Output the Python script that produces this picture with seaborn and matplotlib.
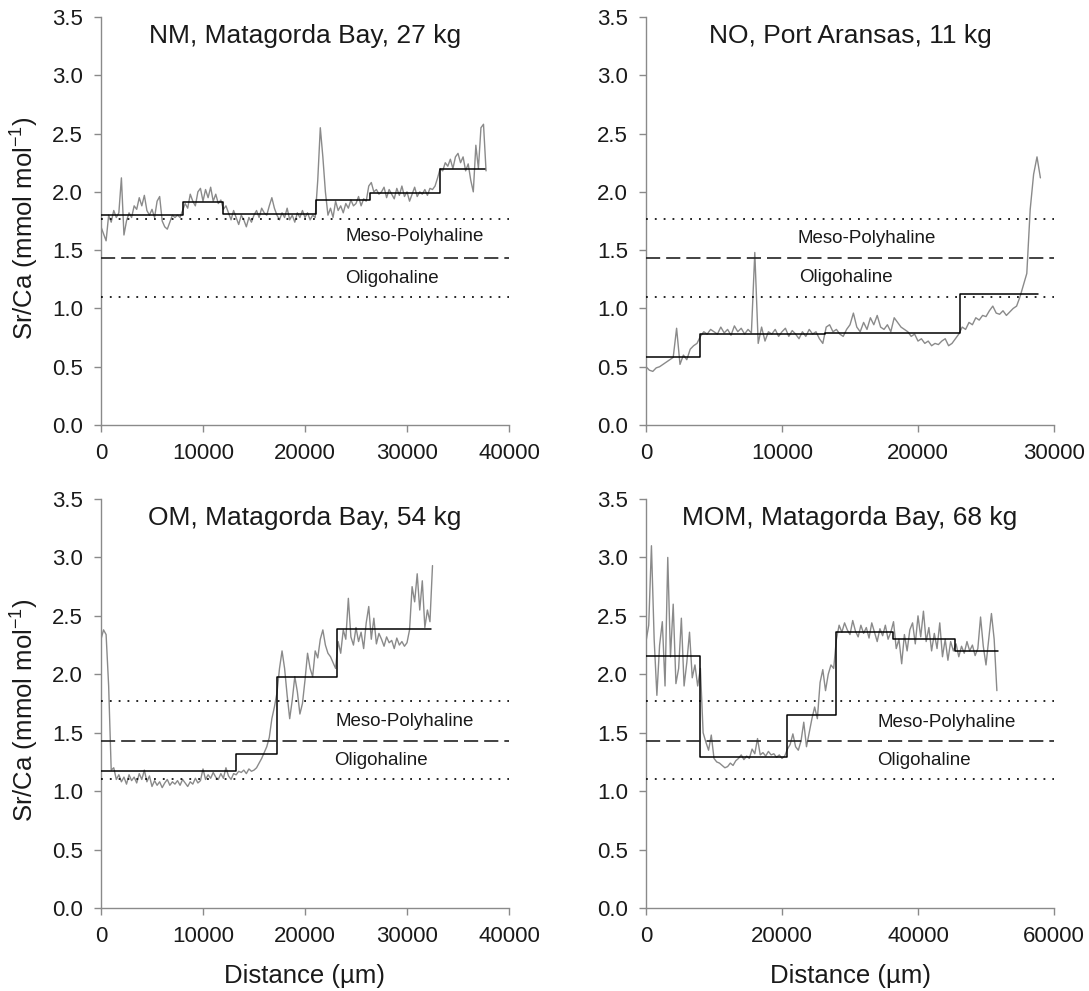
import numpy as np
import pandas as pd
import matplotlib
matplotlib.use("Agg")
import matplotlib.pyplot as plt
import seaborn as sns

# ---------------- data ----------------
# NM, Matagorda Bay, 27 kg  (sampling step 250 um)
NM_STEP = 250
NM_SRCA = [
    1.70, 1.64, 1.58, 1.80, 1.74, 1.84, 1.78, 1.82, 2.12, 1.63,
    1.75, 1.82, 1.78, 1.88, 1.85, 1.95, 1.88, 1.97, 1.84, 1.80,
    1.85, 1.78, 1.92, 1.96, 1.75, 1.70, 1.68, 1.74, 1.80, 1.78,
    1.80, 1.78, 1.84, 1.90, 1.86, 1.98, 1.92, 1.88, 2.00, 2.03,
    1.92, 2.02, 1.95, 2.04, 1.92, 1.98, 1.90, 1.93, 1.85, 1.88,
    1.82, 1.76, 1.84, 1.78, 1.72, 1.80, 1.76, 1.70, 1.78, 1.74,
    1.80, 1.84, 1.78, 1.86, 1.82, 1.80, 1.88, 1.95, 1.86, 1.80,
    1.76, 1.82, 1.78, 1.86, 1.76, 1.80, 1.74, 1.82, 1.78, 1.84,
    1.78, 1.82, 1.76, 1.80, 1.78, 2.10, 2.55, 2.30, 2.00, 1.80,
    1.86, 1.78, 1.92, 1.84, 1.88, 1.82, 1.90, 1.86, 1.93, 1.88,
    1.90, 1.96, 1.88, 1.94, 1.92, 2.05, 2.08, 2.00, 2.02, 1.98,
    2.00, 2.04, 1.95, 2.02, 1.98, 1.94, 2.03, 1.97, 2.05, 1.96,
    2.00, 1.92, 1.98, 2.04, 1.96, 2.00, 1.98, 2.02, 1.97, 2.03,
    2.02, 2.05, 2.12, 2.20, 2.18, 2.25, 2.22, 2.28, 2.20, 2.30,
    2.33, 2.25, 2.30, 2.18, 2.24, 2.10, 2.00, 2.40, 2.20, 2.55,
    2.58, 2.18,
]
NM_STEP_X = [0, 8000, 12000, 21050, 26340, 33240, 37650]
NM_STEP_Y = [1.80, 1.91, 1.81, 1.93, 1.99, 2.20, 2.20]

# NO, Port Aransas, 11 kg  (sampling step 250 um)
NO_STEP = 250
NO_SRCA = [
    0.50, 0.47, 0.46, 0.49, 0.50, 0.52, 0.54, 0.56, 0.58, 0.83,
    0.52, 0.60, 0.56, 0.65, 0.68, 0.70, 0.76, 0.80, 0.78, 0.82,
    0.80, 0.78, 0.84, 0.79, 0.82, 0.77, 0.85, 0.80, 0.83, 0.78,
    0.82, 0.79, 1.48, 0.70, 0.84, 0.72, 0.80, 0.78, 0.82, 0.76,
    0.80, 0.83, 0.76, 0.81, 0.78, 0.74, 0.80, 0.76, 0.82, 0.78,
    0.80, 0.74, 0.70, 0.84, 0.86, 0.80, 0.82, 0.78, 0.76, 0.82,
    0.86, 0.96, 0.84, 0.80, 0.88, 0.82, 0.92, 0.86, 0.94, 0.84,
    0.82, 0.86, 0.80, 0.92, 0.88, 0.84, 0.82, 0.80, 0.76, 0.78,
    0.72, 0.74, 0.70, 0.72, 0.68, 0.70, 0.69, 0.72, 0.74, 0.68,
    0.70, 0.74, 0.78, 0.84, 0.82, 0.88, 0.86, 0.92, 0.90, 0.94,
    0.93, 0.98, 1.02, 0.96, 0.95, 0.98, 0.94, 0.97, 1.00, 1.02,
    1.10, 1.20, 1.30, 1.85, 2.15, 2.30, 2.12,
]
NO_STEP_X = [0, 4000, 13150, 23070, 28830]
NO_STEP_Y = [0.58, 0.78, 0.79, 1.12, 1.12]

# OM, Matagorda Bay, 54 kg  (sampling step 250 um)
OM_STEP = 250
OM_SRCA = [
    2.30, 2.38, 2.34, 1.90, 1.18, 1.20, 1.10, 1.14, 1.08, 1.12,
    1.06, 1.14, 1.09, 1.12, 1.07, 1.15, 1.10, 1.18, 1.08, 1.13,
    1.04, 1.09, 1.05, 1.08, 1.03, 1.07, 1.10, 1.05, 1.08, 1.06,
    1.09, 1.05, 1.10, 1.07, 1.04, 1.08, 1.06, 1.11, 1.07, 1.09,
    1.19, 1.10, 1.14, 1.11, 1.16, 1.12, 1.10, 1.15, 1.11, 1.20,
    1.13, 1.10, 1.15, 1.14, 1.17, 1.16, 1.18, 1.15, 1.19, 1.17,
    1.18, 1.20, 1.24, 1.28, 1.33, 1.38, 1.46, 1.62, 1.72, 1.84,
    2.05, 2.20, 2.05, 1.82, 1.62, 1.78, 1.98, 1.85, 1.66, 1.75,
    1.95, 2.18, 2.05, 1.98, 2.20, 2.14, 2.30, 2.38, 2.25, 2.18,
    2.15, 2.10, 2.05, 2.28, 2.18, 2.38, 2.30, 2.65, 2.32, 2.25,
    2.40, 2.28, 2.36, 2.22, 2.44, 2.58, 2.30, 2.48, 2.26, 2.35,
    2.30, 2.24, 2.32, 2.27, 2.29, 2.22, 2.31, 2.25, 2.28, 2.24,
    2.27, 2.38, 2.75, 2.62, 2.86, 2.55, 2.80, 2.40, 2.55, 2.45,
    2.93,
]
OM_STEP_X = [0, 13240, 17290, 23140, 32350]
OM_STEP_Y = [1.17, 1.32, 1.98, 2.39, 2.39]

# MOM, Matagorda Bay, 68 kg  (sampling step 400 um)
MOM_STEP = 400
MOM_SRCA = [
    2.28, 2.42, 3.10, 2.30, 1.82, 2.25, 2.45, 1.90, 3.00, 2.15,
    2.60, 1.92, 2.05, 2.48, 1.90, 2.10, 2.36, 1.97, 2.08, 1.90,
    2.05, 1.50, 1.42, 1.35, 1.48, 1.28, 1.25, 1.24, 1.22, 1.20,
    1.21, 1.24, 1.22, 1.26, 1.28, 1.31, 1.27, 1.30, 1.28, 1.36,
    1.32, 1.45, 1.31, 1.33, 1.30, 1.34, 1.31, 1.32, 1.29, 1.31,
    1.28, 1.30, 1.36, 1.40, 1.49, 1.38, 1.35, 1.43, 1.59, 1.38,
    1.50, 1.62, 1.72, 1.62, 1.93, 2.04, 1.86, 2.00, 2.08, 2.05,
    2.30, 2.42, 2.36, 2.44, 2.38, 2.34, 2.46, 2.37, 2.32, 2.42,
    2.35, 2.40, 2.31, 2.44, 2.36, 2.28, 2.39, 2.33, 2.42, 2.30,
    2.36, 2.45, 2.22, 2.30, 2.09, 2.34, 2.20, 2.38, 2.44, 2.26,
    2.50, 2.32, 2.54, 2.28, 2.40, 2.20, 2.35, 2.22, 2.44, 2.15,
    2.30, 2.12, 2.28, 2.20, 2.26, 2.15, 2.24, 2.18, 2.28, 2.20,
    2.25, 2.16, 2.22, 2.49, 2.24, 2.08, 2.30, 2.52, 2.30, 1.86,
]
MOM_STEP_X = [0, 8000, 20740, 27910, 36310, 45400, 51790]
MOM_STEP_Y = [2.16, 1.29, 1.65, 2.36, 2.30, 2.20, 2.20]

TITLES = ["NM, Matagorda Bay, 27 kg", "NO, Port Aransas, 11 kg",
          "OM, Matagorda Bay, 54 kg", "MOM, Matagorda Bay, 68 kg"]
X_MAX = [40000, 30000, 40000, 60000]
X_TICKS = [[0, 10000, 20000, 30000, 40000], [0, 10000, 20000, 30000],
           [0, 10000, 20000, 30000, 40000], [0, 20000, 40000, 60000]]
Y_TICKS = [0.0, 0.5, 1.0, 1.5, 2.0, 2.5, 3.0, 3.5]

UPPER_LIMIT = 1.77   # dotted
MID_LIMIT = 1.43     # dashed
LOWER_LIMIT = 1.10   # dotted
LABEL_MESO = "Meso-Polyhaline"
LABEL_OLIGO = "Oligohaline"
# text anchors (distance, Sr/Ca) for each panel
MESO_POS = [(24000, 1.615), (11130, 1.60), (23000, 1.60), (34000, 1.59)]
OLIGO_POS = [(23900, 1.26), (11270, 1.266), (22880, 1.266), (34000, 1.26)]

Y_LABEL = r"Sr/Ca (mmol mol$^{-1}$)"
X_LABEL = "Distance (µm)"

# ---------------- style ----------------
sns.set_theme(style="ticks")
plt.rcParams["font.family"] = ["Liberation Sans", "DejaVu Sans"]
plt.rcParams["mathtext.fontset"] = "custom"
plt.rcParams["mathtext.rm"] = "Liberation Sans"
plt.rcParams["mathtext.it"] = "Liberation Sans:italic"
plt.rcParams["mathtext.bf"] = "Liberation Sans:bold"
plt.rcParams["mathtext.default"] = "regular"

W, H = 1089, 991
fig = plt.figure(figsize=(W / 100, H / 100), dpi=100)

# axes boxes in pixels: (left, right, top, bottom)
boxes = [(101, 509, 17, 425), (646, 1054, 17, 425),
         (101, 509, 499, 908), (646, 1054, 499, 908)]

series = [(NM_STEP, NM_SRCA, NM_STEP_X, NM_STEP_Y),
          (NO_STEP, NO_SRCA, NO_STEP_X, NO_STEP_Y),
          (OM_STEP, OM_SRCA, OM_STEP_X, OM_STEP_Y),
          (MOM_STEP, MOM_SRCA, MOM_STEP_X, MOM_STEP_Y)]

SPINE = "#8a8a8a"
TXT = "#1a1a1a"

for i, (box, (step, vals, sx, sy)) in enumerate(zip(boxes, series)):
    l, r, t, b = box
    ax = fig.add_axes([l / W, 1 - b / H, (r - l) / W, (b - t) / H])
    df = pd.DataFrame({"Distance": np.arange(len(vals)) * step, "SrCa": vals})
    sns.lineplot(data=df, x="Distance", y="SrCa", ax=ax, color="#8a8a8a",
                 lw=1.0, estimator=None, sort=False, zorder=2)
    sdf = pd.DataFrame({"Distance": sx, "SrCa": sy})
    sns.lineplot(data=sdf, x="Distance", y="SrCa", ax=ax, color="black",
                 lw=1.1, estimator=None, sort=False, drawstyle="steps-post",
                 zorder=3)
    ax.axhline(UPPER_LIMIT, color="black", lw=1.2,
               linestyle=(0, (1.1, 4.2)), zorder=4)
    ax.axhline(LOWER_LIMIT, color="black", lw=1.2,
               linestyle=(0, (1.1, 4.2)), zorder=4)
    ax.axhline(MID_LIMIT, color="#222222", lw=1.2,
               linestyle=(0, (8.5, 3.6)), zorder=4)

    ax.text(*MESO_POS[i], LABEL_MESO, ha="left", va="center",
            fontsize=13.5, color=TXT)
    ax.text(*OLIGO_POS[i], LABEL_OLIGO, ha="left", va="center",
            fontsize=13.5, color=TXT)
    ax.text(X_MAX[i] / 2, 3.28, TITLES[i], ha="center", va="baseline",
            fontsize=19, color=TXT)

    ax.set_xlim(0, X_MAX[i])
    ax.set_ylim(0, 3.5)
    ax.set_xticks(X_TICKS[i])
    ax.set_xticklabels([str(v) for v in X_TICKS[i]])
    ax.set_yticks(Y_TICKS)
    ax.set_yticklabels([f"{v:.1f}" for v in Y_TICKS])
    ax.set_xlabel("")
    ax.set_ylabel("")
    sns.despine(ax=ax)
    for s in ("left", "bottom"):
        ax.spines[s].set_color(SPINE)
        ax.spines[s].set_linewidth(1.0)
    ax.tick_params(axis="x", direction="out", length=5, width=1.0,
                   color=SPINE, labelsize=16, labelcolor=TXT, pad=8)
    ax.tick_params(axis="y", direction="out", length=5, width=1.0,
                   color=SPINE, labelsize=16, labelcolor=TXT, pad=8)
    ax.set_facecolor("white")
    ax.grid(False)

# shared labels
for yc in (228, 710):
    fig.text(25 / W, 1 - yc / H, Y_LABEL, rotation=90, ha="center",
             va="center", fontsize=18.5, color=TXT)
for xc in ((101 + 509) / 2, (646 + 1054) / 2):
    fig.text(xc / W, 1 - 983 / H, X_LABEL, ha="center", va="baseline",
             fontsize=18.5, color=TXT)

fig.savefig("out.png", dpi=100, facecolor="white")
